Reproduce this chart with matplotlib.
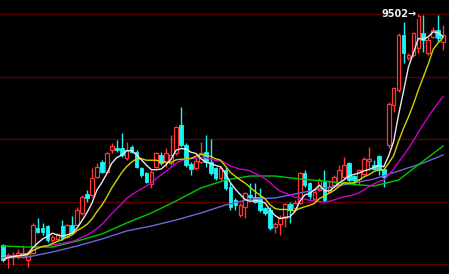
import matplotlib
matplotlib.use("Agg")
import matplotlib.pyplot as plt
import numpy as np
import pandas as pd

# daily candles (price units)
opens = [7652, 7564, 7556, 7564, 7556, 7532, 7588, 7788, 7788, 7804,
         7692, 7700, 7804, 7716, 7812, 7812, 7908, 8060, 8052, 8196,
         8316, 8236, 8412, 8428, 8428, 8348, 8436, 8396, 8268, 8228,
         8140, 8276, 8372, 8316, 8308, 8388, 8612, 8452, 8300, 8268,
         8316, 8396, 8316, 8268, 8188, 8252, 8116, 8012, 7892, 7956,
         8052, 8036, 8036, 7948, 7932, 7796, 7820, 7868, 7980, 7948,
         7988, 8228, 8148, 8020, 8092, 8156, 8076, 8132, 8140, 8196,
         8308, 8204, 8180, 8220, 8324, 8292, 8364, 8260, 8452, 8772,
         8892, 9332, 9148, 9172, 9228, 9348, 9188, 9316, 9372, 9276]
highs = [7660, 7588, 7596, 7620, 7652, 7604, 7828, 7868, 7828, 7812,
         7732, 7748, 7852, 7820, 7884, 7956, 8052, 8092, 8268, 8308,
         8332, 8396, 8468, 8492, 8548, 8476, 8452, 8412, 8276, 8236,
         8252, 8396, 8396, 8428, 8532, 8604, 8756, 8468, 8316, 8348,
         8476, 8532, 8500, 8276, 8284, 8276, 8148, 8028, 7988, 8076,
         8148, 8148, 8108, 7956, 7956, 7836, 7892, 7988, 7996, 8012,
         8236, 8252, 8156, 8092, 8188, 8252, 8172, 8212, 8292, 8356,
         8316, 8212, 8260, 8356, 8436, 8332, 8372, 8260, 8796, 8916,
         9348, 9436, 9188, 9356, 9502, 9492, 9316, 9396, 9492, 9412]
lows = [7516, 7468, 7492, 7540, 7548, 7476, 7580, 7748, 7732, 7676,
        7676, 7692, 7692, 7708, 7748, 7804, 7892, 7996, 8036, 8188,
        8228, 8228, 8388, 8396, 8356, 8332, 8388, 8268, 8196, 8148,
        8108, 8268, 8292, 8276, 8292, 8372, 8436, 8276, 8212, 8252,
        8308, 8276, 8212, 8172, 8172, 8092, 7932, 7932, 7876, 7868,
        8012, 7988, 7916, 7892, 7772, 7748, 7732, 7796, 7828, 7932,
        7980, 8116, 8020, 8004, 8084, 7996, 8068, 8116, 8132, 8180,
        8156, 8132, 8132, 8212, 8252, 8252, 8212, 8116, 8428, 8716,
        8876, 9108, 9132, 9156, 9188, 9196, 9172, 9308, 9276, 9212]
closes = [7532, 7572, 7572, 7588, 7588, 7588, 7812, 7756, 7756, 7692,
          7716, 7740, 7708, 7812, 7756, 7932, 8036, 8028, 8188, 8276,
          8236, 8388, 8444, 8412, 8372, 8412, 8396, 8276, 8212, 8156,
          8236, 8388, 8308, 8388, 8372, 8596, 8452, 8292, 8260, 8324,
          8388, 8316, 8228, 8188, 8268, 8108, 7956, 7972, 7972, 8068,
          8036, 7996, 7932, 7908, 7788, 7820, 7868, 7980, 7932, 7988,
          8228, 8132, 8044, 8076, 8172, 8012, 8116, 8196, 8252, 8292,
          8172, 8172, 8252, 8340, 8340, 8260, 8252, 8196, 8780, 8908,
          9332, 9188, 9172, 9348, 9484, 9292, 9292, 9372, 9308, 9332]

# the two slow averages start before the visible window, so read them off
slow_idx = [0, 5, 10, 15, 20, 25, 30, 35, 40, 45, 50, 55, 60, 65, 70, 75, 80, 85, 89]
ma40 = [7644, 7636, 7636, 7684, 7740, 7828, 7908, 8004, 8108, 8172,
        8204, 8204, 8180, 8164, 8140, 8124, 8172, 8324, 8444]
ma60 = [7548, 7556, 7596, 7644, 7700, 7764, 7804, 7852, 7908, 7972,
        8020, 8028, 8068, 8108, 8140, 8180, 8244, 8308, 8372]

grid_levels = [9500, 9000, 8500, 8000, 7500]

UP = '#ff3636'
DOWN = '#19f5f5'

df = pd.DataFrame({'open': opens, 'high': highs, 'low': lows, 'close': closes})
x = np.arange(len(df))
up = df['close'] >= df['open']

fig = plt.figure(figsize=(4.49, 2.74), dpi=100, facecolor='black')
ax = fig.add_axes([0, 0, 1, 1], facecolor='black')

for lvl in grid_levels:
    ax.axhline(lvl, color='#5e0000', lw=1, zorder=0)

# wicks: down candles full length, up candles only outside the hollow body
ax.vlines(x[~up], df['low'][~up], df['high'][~up], color=DOWN, lw=1, zorder=2)
ax.vlines(x[up], df['low'][up], df['open'][up], color=UP, lw=1, zorder=2)
ax.vlines(x[up], df['close'][up], df['high'][up], color=UP, lw=1, zorder=2)

w = 0.74
body = (df['close'] - df['open']).abs()
bottom = df[['open', 'close']].min(axis=1)
ax.bar(x[up], body[up], w, bottom[up], facecolor='black', edgecolor=UP, lw=0.9, zorder=2)
ax.bar(x[~up], body[~up], w, bottom[~up], color=DOWN, edgecolor=DOWN, lw=0.6, zorder=2)

# moving averages
ma_cols = {5: '#e8e8e8', 10: '#d2d200', 20: '#cc00cc'}
ax.plot(slow_idx, ma60, color='#6868d8', lw=1.0, zorder=3)
ax.plot(slow_idx, ma40, color='#00c800', lw=1.0, zorder=3)
for n in [20, 10, 5]:
    ma = df['close'].rolling(n, min_periods=1).mean()
    ax.plot(x, ma, color=ma_cols[n], lw=1.0, zorder=3)

# label for the highest high
top = int(df['high'].idxmax())
ax.text(top - 0.3, df['high'][top], f"{df['high'][top]:.0f}\u2192", color='#f0f0f0',
        fontsize=7, fontweight='bold', ha='right', va='center', zorder=4,
        bbox=dict(facecolor='black', edgecolor='none', pad=0.5))

ax.set_xlim(-0.61, 90.2)
ax.set_ylim(7420, 9612)
ax.axis('off')

fig.savefig('out.png', dpi=100, facecolor='black')
